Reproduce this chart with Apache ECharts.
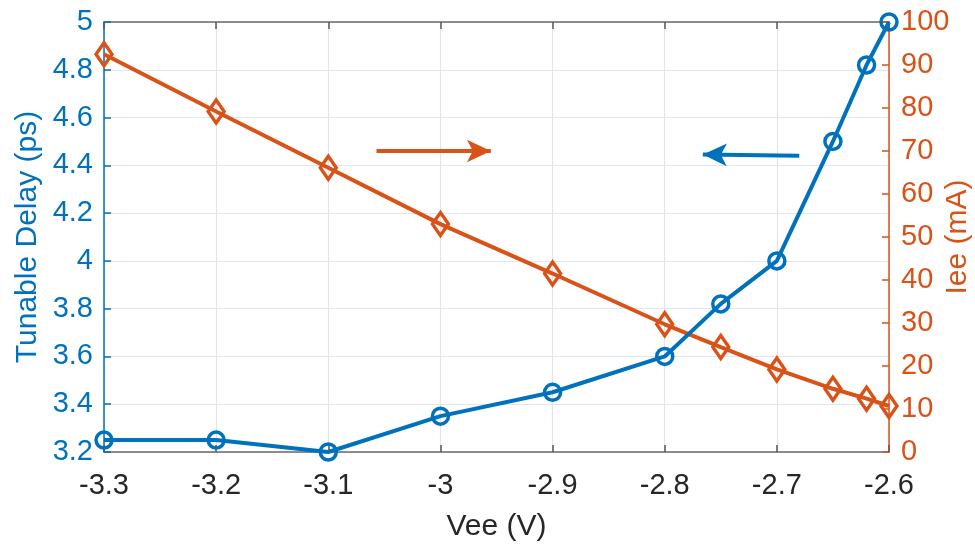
<!DOCTYPE html>
<html><head><meta charset="utf-8">
<script src="https://cdn.jsdelivr.net/npm/echarts@6/dist/echarts.min.js"></script>
<style>html,body{margin:0;padding:0;background:#fff}#c{width:975px;height:545px}</style>
</head><body><div id="c"></div>
<script>
const vee = [-3.3, -3.2, -3.1, -3.0, -2.9, -2.8, -2.75, -2.7, -2.65, -2.62, -2.6];
const delayPs = [3.25, 3.25, 3.2, 3.35, 3.45, 3.6, 3.82, 4.0, 4.5, 4.82, 5.0];
const ieeMa = [92.5, 79.2, 66.1, 53.0, 41.5, 29.7, 24.4, 19.2, 14.7, 12.4, 10.7];
const xRange = [-3.3, -2.6, 0.1];
const leftRange = [3.2, 5.0, 0.2];
const rightRange = [0, 100, 10];
const orangeArrow = [[-3.057, 70], [-2.955, 70]];
const blueArrow = [[-2.68, 4.44], [-2.766, 4.445]];

const BLUE = '#0072BD', ORANGE = '#D95319', DARK = '#262626';
const FONT = 'Liberation Sans';
const fmt = v => String(+v.toFixed(2));
const chart = echarts.init(document.getElementById('c'));
chart.setOption({
  animation: false,
  grid: {left: 104, right: 86, top: 22, bottom: 93, containLabel: false, outerBoundsMode: 'none'},
  xAxis: [{
    type: 'value', min: xRange[0], max: xRange[1], interval: xRange[2],
    name: 'Vee (V)', nameLocation: 'middle', nameGap: 60, nameMoveOverlap: false,
    nameTextStyle: {color: DARK, fontSize: 30, fontFamily: FONT},
    axisLine: {lineStyle: {color: '#6b6b6b', width: 1.5}},
    axisTick: {inside: true, length: 7, lineStyle: {color: '#555', width: 1.5}},
    axisLabel: {color: DARK, fontSize: 29, fontFamily: FONT, margin: 19, formatter: fmt},
    splitLine: {show: true, lineStyle: {color: '#e4e4e4', width: 1.2}}
  }, {
    type: 'value', position: 'top', min: xRange[0], max: xRange[1], interval: xRange[2],
    axisLine: {lineStyle: {color: '#6b6b6b', width: 1.5}},
    axisTick: {inside: true, length: 7, lineStyle: {color: '#555', width: 1.5}},
    axisLabel: {show: false}, splitLine: {show: false}
  }],
  yAxis: [{
    type: 'value', min: leftRange[0], max: leftRange[1], interval: leftRange[2],
    name: 'Tunable Delay (ps)', nameLocation: 'middle', nameGap: 61, nameMoveOverlap: false,
    nameTextStyle: {color: BLUE, fontSize: 30, fontFamily: FONT},
    axisLine: {show: true, lineStyle: {color: BLUE, width: 1.5}},
    axisTick: {show: true, inside: true, length: 7, lineStyle: {color: BLUE, width: 1.5}},
    axisLabel: {color: BLUE, fontSize: 29, fontFamily: FONT, margin: 11, formatter: fmt},
    splitLine: {show: true, lineStyle: {color: '#dde8f2', width: 1.2}}
  }, {
    type: 'value', position: 'right', min: rightRange[0], max: rightRange[1], interval: rightRange[2],
    name: 'Iee (mA)', nameLocation: 'middle', nameGap: 54, nameMoveOverlap: false,
    nameTextStyle: {color: ORANGE, fontSize: 30, fontFamily: FONT},
    axisLine: {show: true, lineStyle: {color: ORANGE, width: 1.5}},
    axisTick: {show: true, inside: true, length: 7, lineStyle: {color: ORANGE, width: 1.5}},
    axisLabel: {color: ORANGE, fontSize: 29, fontFamily: FONT, margin: 12, formatter: fmt},
    splitLine: {show: false}
  }],
  series: [{
    type: 'line', yAxisIndex: 1, z: 3,
    data: vee.map((x, i) => [x, ieeMa[i]]),
    symbol: 'diamond', symbolSize: [16, 23],
    lineStyle: {color: ORANGE, width: 4},
    itemStyle: {color: 'rgba(255,255,255,0)', borderColor: ORANGE, borderWidth: 3.5},
    markLine: {
      silent: true, symbol: ['none', 'arrow'], symbolSize: [17, 24],
      label: {show: false},
      lineStyle: {color: ORANGE, width: 4, type: 'solid'},
      data: [[{coord: orangeArrow[0]}, {coord: orangeArrow[1]}]]
    }
  }, {
    type: 'line', yAxisIndex: 0, z: 4,
    data: vee.map((x, i) => [x, delayPs[i]]),
    symbol: 'circle', symbolSize: 16,
    lineStyle: {color: BLUE, width: 4},
    itemStyle: {color: 'rgba(255,255,255,0)', borderColor: BLUE, borderWidth: 3.5},
    markLine: {
      silent: true, symbol: ['none', 'arrow'], symbolSize: [17, 24],
      label: {show: false},
      lineStyle: {color: BLUE, width: 4, type: 'solid'},
      data: [[{coord: blueArrow[0]}, {coord: blueArrow[1]}]]
    }
  }]
});
</script></body></html>
